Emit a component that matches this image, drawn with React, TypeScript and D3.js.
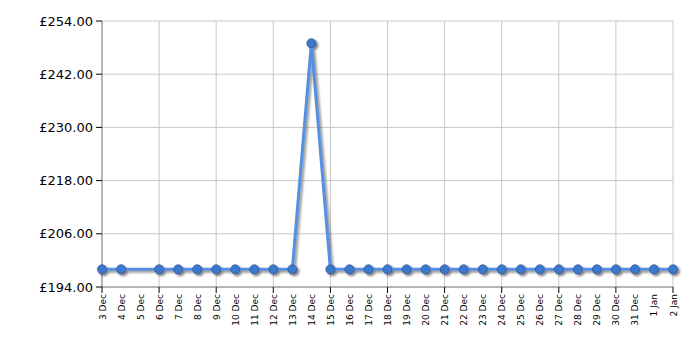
import React from "react";
import * as d3 from "d3";

const dateLabels = [
  "3 Dec","4 Dec","5 Dec","6 Dec","7 Dec","8 Dec","9 Dec","10 Dec","11 Dec","12 Dec",
  "13 Dec","14 Dec","15 Dec","16 Dec","17 Dec","18 Dec","19 Dec","20 Dec","21 Dec","22 Dec",
  "23 Dec","24 Dec","25 Dec","26 Dec","27 Dec","28 Dec","29 Dec","30 Dec","31 Dec","1 Jan","2 Jan",
];
// price per day (null = no data)
const prices: (number | null)[] = [
  197.99,197.99,null,197.99,197.99,197.99,197.99,197.99,197.99,197.99,
  197.99,248.99,197.99,197.99,197.99,197.99,197.99,197.99,197.99,197.99,
  197.99,197.99,197.99,197.99,197.99,197.99,197.99,197.99,197.99,197.99,197.99,
];
const yTicks = [194, 206, 218, 230, 242, 254];

const W = 700, H = 350;
const L = 102, R = 673, T = 21, B = 287;

export default function App() {
  const x = d3.scaleLinear().domain([0, dateLabels.length - 1]).range([L, R]);
  const y = d3.scaleLinear().domain([194, 254]).range([B, T]);
  const pts = prices
    .map((v, i) => ({ i, v }))
    .filter((d) => d.v !== null) as { i: number; v: number }[];
  const line = d3.line<{ i: number; v: number }>().x((d) => x(d.i)).y((d) => y(d.v));
  const font = "Verdana, 'DejaVu Sans', sans-serif";
  return (
    <svg width={W} height={H} style={{ position: "absolute", left: 0, top: 0, background: "#fff" }}>
      <defs>
        <filter id="sh" x="-20%" y="-20%" width="140%" height="140%">
          <feGaussianBlur stdDeviation="1.2" />
        </filter>
      </defs>
      {/* grid */}
      {yTicks.map((t) => (
        <line key={"gy" + t} x1={L} x2={R} y1={y(t)} y2={y(t)} stroke="#c8c8c8" strokeWidth={1} />
      ))}
      {dateLabels.map((d, i) =>
        i % 3 === 0 ? (
          <line key={"gx" + i} x1={x(i)} x2={x(i)} y1={T} y2={B} stroke="#c8c8c8" strokeWidth={1} />
        ) : null
      )}
      {/* axes */}
      <line x1={L} x2={L} y1={T} y2={B} stroke="#888" strokeWidth={1} />
      <line x1={L} x2={R} y1={B} y2={B} stroke="#888" strokeWidth={1} />
      {yTicks.map((t) => (
        <g key={"yt" + t}>
          <line x1={L - 6} x2={L} y1={y(t)} y2={y(t)} stroke="#000" strokeWidth={1} />
          <text x={L - 9} y={y(t)} dy="0.35em" textAnchor="end" fontFamily={font} fontSize={13} fill="#000">
            {"£" + t.toFixed(2)}
          </text>
        </g>
      ))}
      {dateLabels.map((d, i) => (
        <g key={"xt" + i}>
          {i % 3 === 0 ? (
            <line x1={x(i)} x2={x(i)} y1={B} y2={B + 6} stroke="#000" strokeWidth={1} />
          ) : null}
          <text
            transform={`translate(${x(i) + 3.5},${B + 7}) rotate(-90)`}
            textAnchor="end"
            fontFamily={font}
            fontSize={9}
            fill="#000"
          >
            {d}
          </text>
        </g>
      ))}
      {/* shadow */}
      <g transform="translate(2,2)" filter="url(#sh)" opacity={0.6}>
        <path d={line(pts) || ""} fill="none" stroke="#555" strokeWidth={3} />
        {pts.map((p) => (
          <circle key={"s" + p.i} cx={x(p.i)} cy={y(p.v)} r={5} fill="#333" />
        ))}
      </g>
      <path d={line(pts) || ""} fill="none" stroke="#5590e2" strokeWidth={3} strokeLinejoin="round" />
      {pts.map((p) => (
        <circle key={"c" + p.i} cx={x(p.i)} cy={y(p.v)} r={4.5} fill="#3d78cc" stroke="#2a5a9e" strokeWidth={0.8} />
      ))}
    </svg>
  );
}
